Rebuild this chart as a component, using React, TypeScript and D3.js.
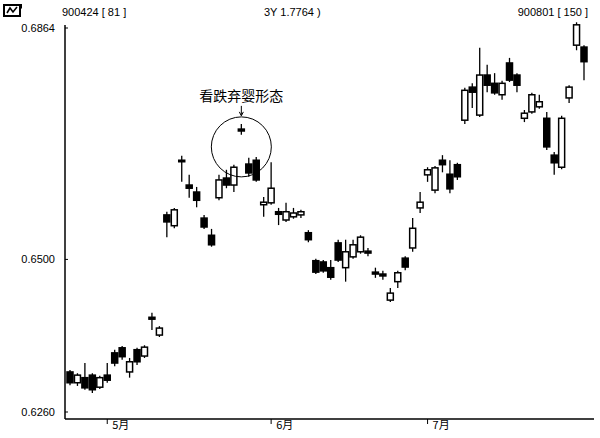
import React from 'react';
import * as d3 from 'd3';

// Daily candles, session 81 (900424) to 150 (900801)
const opens = [
  0.6323, 0.6306, 0.6314, 0.6318, 0.6299, 0.6318, 0.6353, 0.6361, 0.6323, 0.6358,
  0.6348, 0.6409, 0.6381, 0.6570, 0.6553, 0.6656, 0.6617, 0.6606, 0.6565, 0.6538,
  0.6597, 0.6628, 0.6617, 0.6705, 0.6650, 0.6656, 0.6586, 0.6589, 0.6575, 0.6562,
  0.6567, 0.6570, 0.6542, 0.6498, 0.6496, 0.6487, 0.6526, 0.6487, 0.6504, 0.6512,
  0.6513, 0.6480, 0.6477, 0.6436, 0.6465, 0.6502, 0.6518, 0.6581, 0.6633, 0.6609,
  0.6656, 0.6634, 0.6649, 0.6719, 0.6771, 0.6727, 0.6790, 0.6777, 0.6759, 0.6809,
  0.6790, 0.6722, 0.6732, 0.6740, 0.6722, 0.6664, 0.6645, 0.6754, 0.6837, 0.6834,
];
const highs = [
  0.6326, 0.6321, 0.6337, 0.6321, 0.6317, 0.6337, 0.6358, 0.6364, 0.6345, 0.6361,
  0.6365, 0.6416, 0.6395, 0.6575, 0.6581, 0.6663, 0.6633, 0.6614, 0.6570, 0.6548,
  0.6633, 0.6641, 0.6649, 0.6713, 0.6660, 0.6661, 0.6598, 0.6653, 0.6581, 0.6589,
  0.6581, 0.6578, 0.6546, 0.6501, 0.6499, 0.6499, 0.6531, 0.6531, 0.6531, 0.6538,
  0.6518, 0.6487, 0.6482, 0.6455, 0.6482, 0.6505, 0.6565, 0.6606, 0.6645, 0.6647,
  0.6664, 0.6656, 0.6652, 0.6770, 0.6777, 0.6833, 0.6806, 0.6793, 0.6781, 0.6817,
  0.6793, 0.6735, 0.6762, 0.6759, 0.6732, 0.6669, 0.6726, 0.6774, 0.6873, 0.6837,
];
const lows = [
  0.6302, 0.6301, 0.6295, 0.6290, 0.6296, 0.6306, 0.6332, 0.6342, 0.6314, 0.6334,
  0.6345, 0.6389, 0.6378, 0.6535, 0.6549, 0.6622, 0.6597, 0.6582, 0.6548, 0.6520,
  0.6593, 0.6612, 0.6606, 0.6696, 0.6630, 0.6622, 0.6567, 0.6586, 0.6554, 0.6559,
  0.6564, 0.6565, 0.6527, 0.6477, 0.6479, 0.6468, 0.6496, 0.6465, 0.6501, 0.6509,
  0.6505, 0.6471, 0.6468, 0.6433, 0.6455, 0.6483, 0.6512, 0.6573, 0.6622, 0.6604,
  0.6637, 0.6604, 0.6625, 0.6713, 0.6738, 0.6724, 0.6763, 0.6759, 0.6751, 0.6779,
  0.6763, 0.6716, 0.6729, 0.6737, 0.6672, 0.6633, 0.6642, 0.6746, 0.6829, 0.6782,
];
const closes = [
  0.6306, 0.6318, 0.6298, 0.6295, 0.6314, 0.6310, 0.6337, 0.6347, 0.6339, 0.6339,
  0.6362, 0.6406, 0.6392, 0.6559, 0.6578, 0.6655, 0.6612, 0.6593, 0.6551, 0.6523,
  0.6625, 0.6617, 0.6645, 0.6702, 0.6636, 0.6625, 0.6590, 0.6612, 0.6571, 0.6575,
  0.6573, 0.6575, 0.6531, 0.6480, 0.6482, 0.6472, 0.6499, 0.6512, 0.6523, 0.6535,
  0.6510, 0.6477, 0.6474, 0.6447, 0.6479, 0.6488, 0.6549, 0.6590, 0.6641, 0.6644,
  0.6649, 0.6611, 0.6630, 0.6766, 0.6763, 0.6790, 0.6774, 0.6762, 0.6777, 0.6782,
  0.6774, 0.6730, 0.6759, 0.6748, 0.6677, 0.6652, 0.6722, 0.6771, 0.6869, 0.6811,
];

const yTickValues = [0.6864, 0.65, 0.626];
const yTickLabels = ['0.6864', '0.6500', '0.6260'];
const monthIndices = [5, 27, 48];
const monthLabels = ['5月', '6月', '7月'];

const headerLeft = '900424 [ 81 ]';
const headerMid = '3Y 1.7764 )';
const headerRight = '900801 [ 150 ]';

const noteText = '看跌弃婴形态';
const noteIndex = 23;
const notePrice = 0.6677;

export default function App() {
  const W = 600;
  const H = 438;
  const x = d3.scaleLinear().domain([0, 69]).range([70, 584]);
  const y = d3.scaleLinear().domain([0.626, 0.6864]).range([412, 28]);
  const axisX = 65;
  const axisBottom = 419;
  const bodyW = 6;
  const font = '"Liberation Sans", Arial, sans-serif';
  const cjk = '"Noto Sans CJK SC", sans-serif';

  const cx = x(noteIndex);
  const cy = y(notePrice);
  const r = 30;

  return (
    <svg width={W} height={H} style={{ position: 'absolute', left: 0, top: 0, background: '#fff' }}>
      <rect x={0} y={0} width={W} height={H} fill="#fff" />
      {/* icon */}
      <g>
        <rect x={4} y={5} width={16} height={11} fill="#fff" stroke="#000" strokeWidth={2} />
        <path d="M7,13 L10,8 L13,12 L17,7" fill="none" stroke="#000" strokeWidth={1.6} />
        <path d="M17,4 L22,4 L22,9 Z" fill="#000" />
      </g>
      <text x={62} y={16} fontFamily={font} fontSize={11} fill="#000">{headerLeft}</text>
      <text x={264} y={16} fontFamily={font} fontSize={11} fill="#000">{headerMid}</text>
      <text x={588} y={16} textAnchor="end" fontFamily={font} fontSize={11} fill="#000">{headerRight}</text>

      {/* axes */}
      <line x1={axisX} y1={25} x2={axisX} y2={axisBottom} stroke="#000" strokeWidth={1.5} />
      <line x1={axisX} y1={axisBottom} x2={594} y2={axisBottom} stroke="#000" strokeWidth={1.5} />
      {yTickValues.map((v, i) => (
        <g key={'yt' + i}>
          <line x1={axisX} x2={axisX + 3} y1={y(v)} y2={y(v)} stroke="#000" />
          <text x={55} y={y(v)} dy="0.35em" textAnchor="end" fontFamily={font} fontSize={11} fill="#000">
            {yTickLabels[i]}
          </text>
        </g>
      ))}
      {monthIndices.map((m, i) => (
        <g key={'mt' + i}>
          <line x1={x(m)} x2={x(m)} y1={axisBottom} y2={axisBottom + 5} stroke="#000" />
          <text x={x(m) + 5} y={axisBottom + 6} dy="0.35em" fontFamily={cjk} fontSize={11} fill="#000">
            {monthLabels[i]}
          </text>
        </g>
      ))}

      {/* candles */}
      {opens.map((o, i) => {
        const c = closes[i];
        const up = c > o;
        const top = y(Math.max(o, c));
        const bot = y(Math.min(o, c));
        const h = Math.max(1.5, bot - top);
        return (
          <g key={'c' + i}>
            <line x1={x(i)} x2={x(i)} y1={y(highs[i])} y2={y(lows[i])} stroke="#000" strokeWidth={1.3} />
            <rect
              x={x(i) - bodyW / 2}
              y={top}
              width={bodyW}
              height={h}
              fill={up ? '#fff' : '#000'}
              stroke="#000"
              strokeWidth={1.5}
            />
          </g>
        );
      })}

      {/* annotation */}
      <circle cx={cx} cy={cy} r={r} fill="none" stroke="#000" strokeWidth={1} />
      <line x1={cx} x2={cx} y1={cy - r - 11} y2={cy - r - 2} stroke="#000" strokeWidth={1} />
      <path d={`M${cx - 2},${cy - r - 5} L${cx},${cy - r - 1} L${cx + 2},${cy - r - 5}`} fill="none" stroke="#000" strokeWidth={1} />
      <text x={cx} y={cy - r - 16} textAnchor="middle" fontFamily={cjk} fontSize={14} fill="#000">
        {noteText}
      </text>
    </svg>
  );
}
